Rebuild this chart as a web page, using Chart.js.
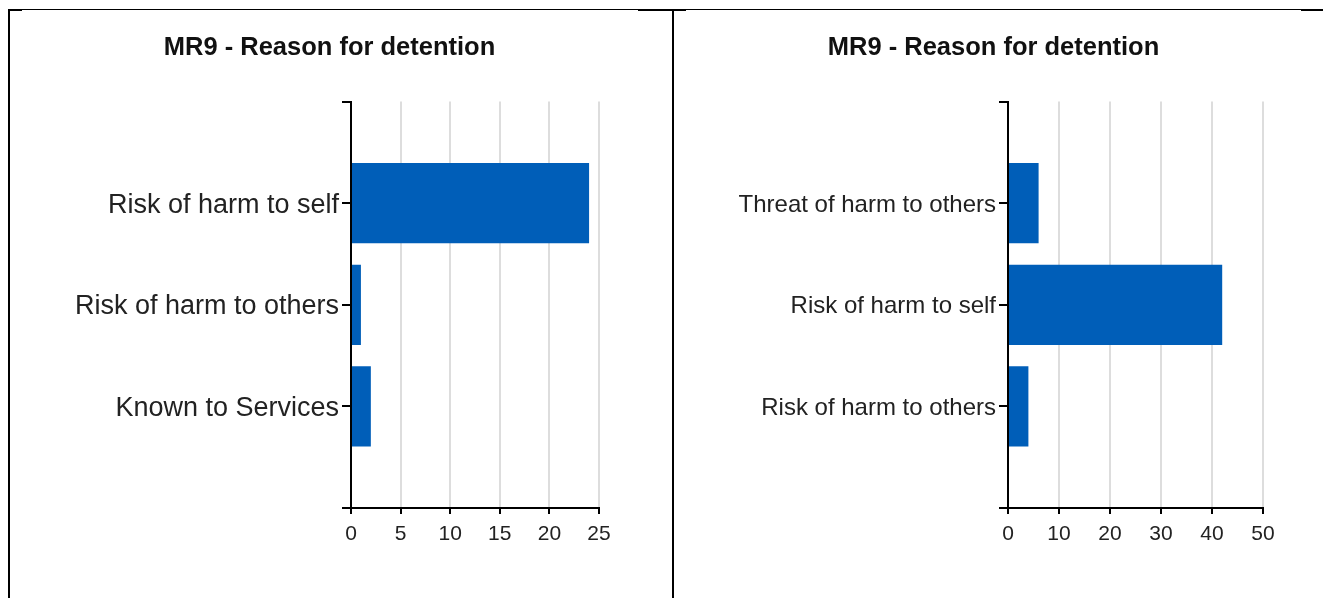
<!DOCTYPE html>
<html>
<head>
<meta charset="utf-8">
<script src="https://cdn.jsdelivr.net/npm/chart.js@4/dist/chart.umd.min.js"></script>
<style>
  html, body { margin: 0; padding: 0; background: #fff; }
  body { width: 1323px; height: 598px; position: relative; overflow: hidden; }
  .wrap { position: absolute; top: 10px; width: 639px; height: 588px; }
  .line { position: absolute; background: #000; }
</style>
</head>
<body>
<div class="line" style="left:8px; top:9px; width:1315px; height:1px;"></div>
<div class="line" style="left:8px; top:9px; width:14px; height:2px;"></div>
<div class="line" style="left:638px; top:9px; width:48px; height:2px;"></div>
<div class="line" style="left:1301px; top:9px; width:22px; height:2px;"></div>
<div class="line" style="left:8px; top:9px; width:2px; height:589px;"></div>
<div class="line" style="left:672px; top:9px; width:2px; height:589px;"></div>

<div class="wrap" style="left:10px;"><canvas id="c1" width="639" height="588"></canvas></div>
<div class="wrap" style="left:674px;"><canvas id="c2" width="639" height="588"></canvas></div>

<script>
// ---- Data ----
const chartTitle = 'MR9 - Reason for detention';

const leftCategories = ['Risk of harm to self', 'Risk of harm to others', 'Known to Services'];
const leftValues = [24, 1, 2];
const leftTicks = [0, 5, 10, 15, 20, 25];

const rightCategories = ['Threat of harm to others', 'Risk of harm to self', 'Risk of harm to others'];
const rightValues = [6, 42, 4];
const rightTicks = [0, 10, 20, 30, 40, 50];

// ---- Rendering ----
const FONT = '"Liberation Sans", Arial, sans-serif';
const BLUE = '#005EB8';

function makeChart(id, categories, values, ticks, labelSize, yAxisWidth) {
  // blank slots at both ends give the empty band above and below the bars
  const labels = [''].concat(categories, ['']);
  const data = [null].concat(values, [null]);
  return new Chart(document.getElementById(id), {
    type: 'bar',
    data: {
      labels: labels,
      datasets: [{
        data: data,
        backgroundColor: BLUE,
        borderWidth: 0,
        barPercentage: 0.79,
        categoryPercentage: 1
      }]
    },
    options: {
      indexAxis: 'y',
      responsive: false,
      animation: false,
      layout: { padding: { left: 50, right: 50, top: 0, bottom: 0 } },
      plugins: {
        legend: { display: false },
        tooltip: { enabled: false },
        title: {
          display: true,
          text: chartTitle,
          color: '#111',
          font: { family: FONT, size: 25.5, weight: 'bold', lineHeight: 1.2 },
          padding: { top: 23, bottom: 38 }
        }
      },
      scales: {
        x: {
          type: 'linear',
          min: ticks[0],
          max: ticks[ticks.length - 1],
          afterBuildTicks: (scale) => { scale.ticks = ticks.map(v => ({ value: v })); },
          afterFit: (scale) => { scale.height = 90; },
          grid: {
            color: '#dddddd',
            lineWidth: 2,
            tickColor: '#000',
            tickLength: 6,
            drawTicks: true
          },
          border: { color: '#000', width: 2 },
          ticks: {
            color: '#222',
            padding: 8,
            font: { family: FONT, size: 21 },
            maxRotation: 0
          }
        },
        y: {
          type: 'category',
          offset: false,
          afterFit: (scale) => { scale.width = yAxisWidth; },
          grid: {
            offset: false,
            drawOnChartArea: false,
            drawTicks: true,
            tickLength: 9,
            color: '#000',
            tickColor: '#000',
            lineWidth: 2
          },
          border: { color: '#000', width: 2 },
          ticks: {
            color: '#222',
            padding: 3,
            labelOffset: 2,
            autoSkip: false,
            font: { family: FONT, size: labelSize }
          }
        }
      }
    }
  });
}

makeChart('c1', leftCategories, leftValues, leftTicks, 27, 291);
makeChart('c2', rightCategories, rightValues, rightTicks, 24, 284);
</script>
</body>
</html>
